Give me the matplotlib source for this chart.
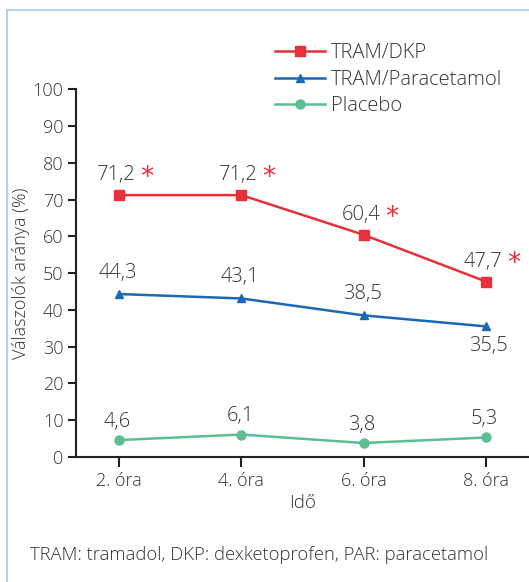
import matplotlib
matplotlib.use('Agg')
import matplotlib.pyplot as plt
from matplotlib.lines import Line2D

# ── Data ──────────────────────────────────────────────────────────────────────
time_labels = ['2. óra', '4. óra', '6. óra', '8. óra']
tram_dkp = [71.2, 71.2, 60.4, 47.7]
tram_par = [44.3, 43.1, 38.5, 35.5]
placebo = [4.6, 6.1, 3.8, 5.3]
dkp_significant = [True, True, True, True]
par_label_below = [False, False, False, True]

series_names = ['TRAM/DKP', 'TRAM/Paracetamol', 'Placebo']
footnote = 'TRAM: tramadol, DKP: dexketoprofen, PAR: paracetamol'

RED = '#E8303A'
BLUE = '#1C68B8'
GREEN = '#5CBE92'
TXT = '#333333'

plt.rcParams['font.family'] = ['Open Sans', 'DejaVu Sans']
plt.rcParams['font.weight'] = 'light'
plt.rcParams['axes.labelweight'] = 'light'

fig = plt.figure(figsize=(5.29, 5.82), dpi=100)
ax = fig.add_axes([0.1437, 0.2148, 0.8563, 0.632])

xs = list(range(len(time_labels)))
ax.plot(xs, tram_dkp, color=RED, lw=1.8, marker='s', ms=7, label=series_names[0])
ax.plot(xs, tram_par, color=BLUE, lw=1.8, marker='^', ms=6, label=series_names[1])
ax.plot(xs, placebo, color=GREEN, lw=1.8, marker='o', ms=6.5, label=series_names[2])

# value labels
for x, v, sig in zip(xs, tram_dkp, dkp_significant):
    ax.annotate(f'{v:.1f}'.replace('.', ','), (x, v), xytext=(-2, 7),
                textcoords='offset points', ha='center', va='bottom',
                fontsize=14.5, color=TXT)
    if sig:
        ax.annotate('*', (x, v), xytext=(20, 3), textcoords='offset points',
                    ha='center', va='bottom', fontsize=19, color=RED,
                    family='DejaVu Sans', fontweight='normal')
for x, v, below in zip(xs, tram_par, par_label_below):
    ax.annotate(f'{v:.1f}'.replace('.', ','), (x, v),
                xytext=(2, -7) if below else (-1, 8),
                textcoords='offset points', ha='center',
                va='top' if below else 'bottom', fontsize=14.5, color=TXT)
for x, v in zip(xs, placebo):
    ax.annotate(f'{v:.1f}'.replace('.', ','), (x, v), xytext=(-1, 6),
                textcoords='offset points', ha='center', va='bottom',
                fontsize=14.5, color=TXT)

ax.set_xlim(-0.352, 3.352)
ax.set_ylim(0, 100)
ax.set_yticks(range(0, 101, 10))
ax.set_xticks(xs)
ax.set_xticklabels(time_labels)
for s in ['top', 'right']:
    ax.spines[s].set_visible(False)
for s in ['left', 'bottom']:
    ax.spines[s].set_linewidth(1.5)
    ax.spines[s].set_color('#222222')
ax.tick_params(axis='y', length=6, width=1.5, labelsize=13, colors='#222222',
               labelcolor=TXT, pad=3)
ax.tick_params(axis='x', length=7, width=1.5, labelsize=13, colors='#222222',
               labelcolor=TXT, pad=4)
ax.set_ylabel('Válaszolók aránya (%)', fontsize=13, color=TXT, labelpad=2)
ax.set_xlabel('Idő', fontsize=13.5, color=TXT, labelpad=3)
ax.patch.set_alpha(0)

leg = fig.legend(loc='upper left', bbox_to_anchor=(0.505, 0.94), frameon=False,
                 fontsize=14.5, handlelength=2.45, handletextpad=0.3,
                 labelspacing=0.33, borderaxespad=0)
for t in leg.get_texts():
    t.set_color(TXT)

fig.text(0.057, 0.046, footnote, fontsize=13.2, color=TXT, va='center', ha='left')

# light blue frame of the printed figure
fig.add_artist(Line2D([0.013, 1.0], [0.983, 0.983], transform=fig.transFigure,
                      color='#A8C8E8', lw=1.2))
fig.add_artist(Line2D([0.013, 0.013], [0.0, 0.983], transform=fig.transFigure,
                      color='#A8C8E8', lw=1.2))

fig.savefig('out.png', dpi=100)
